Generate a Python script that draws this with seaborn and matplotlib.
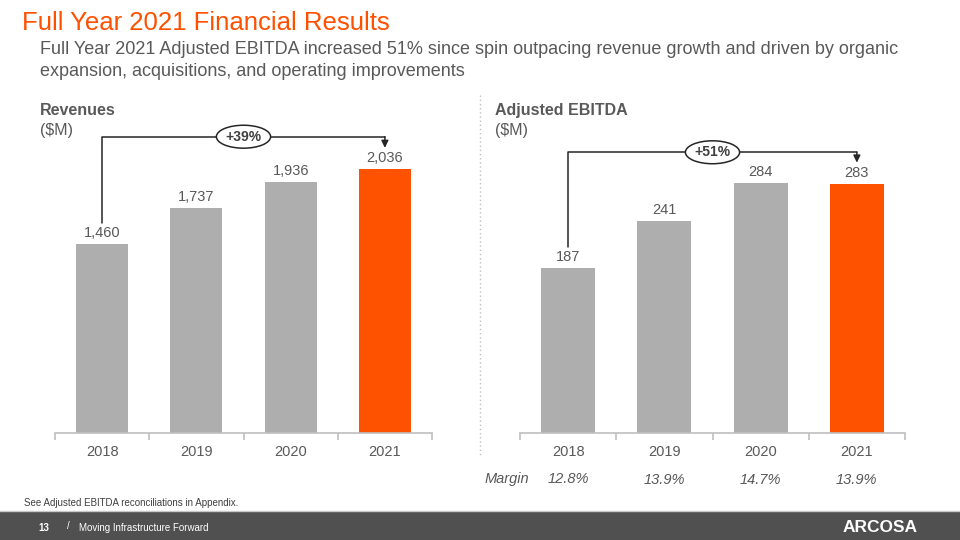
import matplotlib
matplotlib.use("Agg")
import matplotlib.pyplot as plt
import seaborn as sns
from matplotlib.patches import Rectangle
from matplotlib.lines import Line2D

years = ["2018", "2019", "2020", "2021"]
revenues = [1460, 1737, 1936, 2036]
ebitda = [187, 241, 284, 283]
margins = ["12.8%", "13.9%", "14.7%", "13.9%"]
rev_growth = "+39%"
ebitda_growth = "+51%"

GRAY = "#AEAEAE"
ORANGE = "#FF5200"
TXT = "#595959"
AX = "#BFBFBF"
palette = {y: (ORANGE if y == "2021" else GRAY) for y in years}

sns.set_theme(style="white")
plt.rcParams["font.family"] = ["Liberation Sans", "DejaVu Sans"]

W, H = 960, 540
fig = plt.figure(figsize=(9.6, 5.4), dpi=100)

def fx(px): return px / W
def fy(py): return 1 - py / H

def panel(left, right, values, ymax, width, growth):
    ax = fig.add_axes([fx(left), fy(433), fx(right - left), (433 - 100) / H])
    sns.barplot(x=years, y=values, hue=years, palette=palette, legend=False,
                width=width, ax=ax, saturation=1, edgecolor="none")
    ax.set_xlim(-0.5, 3.5)
    ax.set_ylim(0, ymax)
    for s in ["top", "right", "left"]:
        ax.spines[s].set_visible(False)
    ax.spines["bottom"].set_color(AX)
    ax.spines["bottom"].set_linewidth(1.2)
    ax.set_yticks([])
    ax.set_xlabel(""); ax.set_ylabel("")
    ax.set_xticks(range(4))
    ax.set_xticklabels(years, fontsize=10.5, color=TXT)
    ax.set_xticks([-0.5, 0.5, 1.5, 2.5, 3.5], minor=True)
    ax.tick_params(axis="x", which="major", length=0, pad=9)
    ax.tick_params(axis="x", which="minor", bottom=True, length=5, width=1.2,
                   color=AX, direction="out")
    px = ymax / 333.0  # data units per pixel
    for i, v in enumerate(values):
        ax.text(i, v + 4 * px, f"{v:,}", ha="center", va="bottom",
                fontsize=10.5, color=TXT)
    top = max(values) * 1.122
    ax.plot([0, 0, 3], [values[0] + 21 * px, top, top], color="#262626",
            lw=1.1, clip_on=False)
    ax.annotate("", xy=(3, values[3] + 21 * px), xytext=(3, top),
                arrowprops=dict(arrowstyle="-|>,head_length=0.35,head_width=0.17",
                                color="#262626", lw=1.1, shrinkA=0, shrinkB=0),
                annotation_clip=False)
    ax.text(1.5, top, growth, ha="center", va="center", fontsize=10,
            fontweight="bold", color="#404040",
            bbox=dict(boxstyle="ellipse,pad=0.08", fc="white", ec="#262626", lw=1.1))
    return ax

ax1 = panel(55, 432, revenues, 333 / 0.1297, 0.55, rev_growth)
ax2 = panel(520, 905, ebitda, 333 / 0.881, 0.56, ebitda_growth)

# Panel titles
fig.text(fx(40), fy(111), "Revenues", fontsize=11.5, fontweight="bold", color=TXT, va="center")
fig.text(fx(40), fy(131), "($M)", fontsize=11.5, color=TXT, va="center")
fig.text(fx(495), fy(111), "Adjusted EBITDA", fontsize=11.5, fontweight="bold", color=TXT, va="center")
fig.text(fx(495), fy(131), "($M)", fontsize=11.5, color=TXT, va="center")

# Margin row
fig.text(fx(507), fy(479), "Margin", fontsize=10.5, style="italic", color=TXT, ha="center", va="center")
for i, m in enumerate(margins):
    xc = ax2.transData.transform((i, 0))[0] / W
    fig.text(xc, fy(479 + (1 if i else 0)), m, fontsize=10.5, style="italic", color=TXT,
             ha="center", va="center")

# Title and subtitle
fig.text(fx(22), fy(23), "Full Year 2021 Financial Results", fontsize=18.5, color="#FF5000",
         va="center")
fig.text(fx(40), fy(50), "Full Year 2021 Adjusted EBITDA increased 51% since spin outpacing revenue growth and driven by organic",
         fontsize=13, color=TXT, va="center")
fig.text(fx(40), fy(71), "expansion, acquisitions, and operating improvements",
         fontsize=13, color=TXT, va="center")

# Dotted separator
fig.add_artist(Line2D([fx(480), fx(480)], [fy(95), fy(457)], color=AX, lw=1,
                      linestyle=(0, (1, 2))))

# Footnote
fig.text(fx(24), fy(503), "See Adjusted EBITDA reconciliations in Appendix.", fontsize=7,
         color="#404040", va="center")

# Footer band
fig.add_artist(Rectangle((0, 0), 1, 29 / H, transform=fig.transFigure,
                         facecolor="#505050", edgecolor="none"))
fig.add_artist(Line2D([0, 1], [fy(511), fy(511)], color="#C8C8C8", lw=1))
fig.text(fx(38), fy(528), "13", fontsize=7, fontweight="bold", color="white", va="center")
fig.text(fx(67), fy(526), "/", fontsize=7, color="white", va="center")
fig.text(fx(79), fy(528), "Moving Infrastructure Forward", fontsize=7, color="white", va="center")
fig.text(fx(880), fy(527), "ARCOSA", fontsize=12.5, fontweight="bold", color="white",
         ha="center", va="center")

fig.savefig("out.png", dpi=100)
